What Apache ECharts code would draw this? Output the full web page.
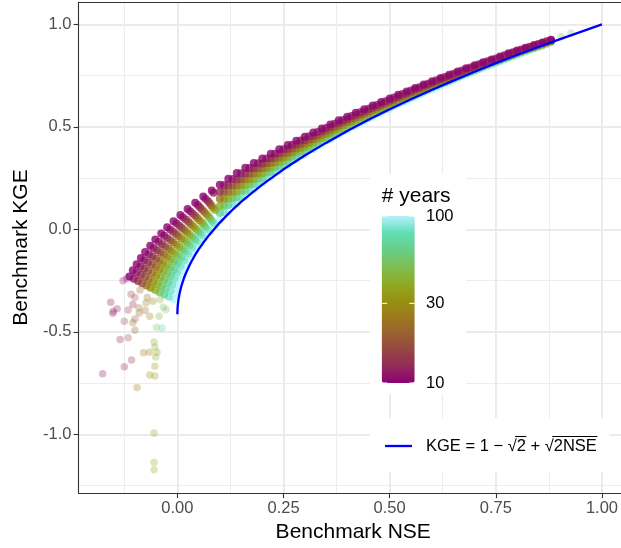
<!DOCTYPE html>
<html>
<head>
<meta charset="utf-8">
<script src="https://cdn.jsdelivr.net/npm/echarts@6/dist/echarts.min.js"></script>
<style>
  html, body { margin: 0; padding: 0; background: #ffffff; }
  #chart { width: 621px; height: 548px; }
</style>
</head>
<body>
<div id="chart"></div>
<script>
// Axis ticks
const xTicks = [0, 0.25, 0.5, 0.75, 1];
const xMinorTicks = [-0.125, 0.125, 0.375, 0.625, 0.875];
const yTicks = [-1, -0.5, 0, 0.5, 1];
const yMinorTicks = [-1.25, -0.75, -0.25, 0.25, 0.75];
const legendTicks = [10, 30, 100];

// Reference curve KGE = 1 - sqrt(2) + sqrt(2 NSE)
const curveNse = [0, 0.0001, 0.0005, 0.001, 0.002, 0.0035, 0.005, 0.0075, 0.01, 0.015,
  0.02, 0.03, 0.04, 0.05, 0.06, 0.075, 0.1, 0.125, 0.15, 0.175,
  0.2, 0.25, 0.3, 0.35, 0.4, 0.45, 0.5, 0.55, 0.6, 0.65,
  0.7, 0.75, 0.8, 0.85, 0.9, 0.95, 1.0];
const curveKge = [-0.414, -0.400, -0.383, -0.370, -0.351, -0.331, -0.314, -0.292, -0.273, -0.241,
  -0.214, -0.169, -0.131, -0.098, -0.068, -0.027, 0.033, 0.086, 0.134, 0.177,
  0.218, 0.293, 0.360, 0.422, 0.480, 0.535, 0.586, 0.635, 0.681, 0.726,
  0.769, 0.811, 0.851, 0.890, 0.927, 0.964, 1.000];

// Benchmark scores, low-NSE part of the cloud, grouped by record length (years)
const lowerYears = [100, 85, 70, 55, 42, 32, 24, 18, 14, 12, 10];
const lowerNse = [
  [-0.009, -0.006, -0.002, 0.003, 0.009, 0.016, 0.024, 0.032, 0.042, 0.052, 0.063, 0.076, 0.089],
  [-0.020, -0.016, -0.012, -0.006, 0.000, 0.008, 0.016, 0.025, 0.035, 0.046, 0.058, 0.071, 0.085],
  [-0.031, -0.027, -0.021, -0.015, -0.008, 0.000, 0.009, 0.018, 0.029, 0.041, 0.053, 0.066, 0.081],
  [-0.042, -0.037, -0.031, -0.024, -0.017, -0.008, 0.001, 0.012, 0.023, 0.035, 0.048, 0.062, 0.077],
  [-0.052, -0.047, -0.040, -0.033, -0.025, -0.016, -0.006, 0.005, 0.017, 0.029, 0.043, 0.058, 0.073, 0.089],
  [-0.063, -0.057, -0.050, -0.042, -0.034, -0.024, -0.014, -0.002, 0.010, 0.023, 0.037, 0.052, 0.068, 0.084],
  [-0.073, -0.067, -0.059, -0.051, -0.042, -0.032, -0.021, -0.010, 0.003, 0.017, 0.031, 0.047, 0.063, 0.080],
  [-0.083, -0.076, -0.069, -0.060, -0.050, -0.040, -0.029, -0.016, -0.003, 0.011, 0.026, 0.042, 0.058, 0.076],
  [-0.093, -0.086, -0.078, -0.069, -0.059, -0.048, -0.036, -0.024, -0.010, 0.005, 0.020, 0.036, 0.053, 0.072],
  [-0.103, -0.096, -0.087, -0.078, -0.067, -0.056, -0.044, -0.031, -0.017, -0.002, 0.013, 0.030, 0.048, 0.066, 0.085],
  [-0.113, -0.105, -0.096, -0.086, -0.076, -0.064, -0.052, -0.038, -0.024, -0.009, 0.007, 0.024, 0.042, 0.061, 0.081]
];
const lowerKge = [
  [-0.340, -0.310, -0.280, -0.250, -0.220, -0.190, -0.160, -0.130, -0.100, -0.070, -0.040, -0.010, 0.020],
  [-0.329, -0.299, -0.269, -0.239, -0.209, -0.179, -0.149, -0.119, -0.089, -0.059, -0.029, 0.001, 0.031],
  [-0.318, -0.288, -0.258, -0.228, -0.198, -0.168, -0.138, -0.108, -0.078, -0.048, -0.018, 0.012, 0.042],
  [-0.307, -0.277, -0.247, -0.217, -0.187, -0.157, -0.127, -0.097, -0.067, -0.037, -0.007, 0.023, 0.053],
  [-0.296, -0.266, -0.236, -0.206, -0.176, -0.146, -0.116, -0.086, -0.056, -0.026, 0.004, 0.034, 0.064, 0.094],
  [-0.285, -0.255, -0.225, -0.195, -0.165, -0.135, -0.105, -0.075, -0.045, -0.015, 0.015, 0.045, 0.075, 0.105],
  [-0.274, -0.244, -0.214, -0.184, -0.154, -0.124, -0.094, -0.064, -0.034, -0.004, 0.026, 0.056, 0.086, 0.116],
  [-0.263, -0.233, -0.203, -0.173, -0.143, -0.113, -0.083, -0.053, -0.023, 0.007, 0.037, 0.067, 0.097, 0.127],
  [-0.252, -0.222, -0.192, -0.162, -0.132, -0.102, -0.072, -0.042, -0.012, 0.018, 0.048, 0.078, 0.108, 0.138],
  [-0.241, -0.211, -0.181, -0.151, -0.121, -0.091, -0.061, -0.031, -0.001, 0.029, 0.059, 0.089, 0.119, 0.149, 0.179],
  [-0.230, -0.200, -0.170, -0.140, -0.110, -0.080, -0.050, -0.020, 0.010, 0.040, 0.070, 0.100, 0.130, 0.160, 0.190]
];

// Benchmark scores, upper part of the cloud (even NSE grid)
const upperYears = [100, 70, 42, 24, 14, 10];
const upperNse = [0.10, 0.12, 0.14, 0.16, 0.18, 0.20, 0.22, 0.24, 0.26, 0.28,
  0.30, 0.32, 0.34, 0.36, 0.38, 0.40, 0.42, 0.44, 0.46, 0.48,
  0.50, 0.52, 0.54, 0.56, 0.58, 0.60, 0.62, 0.64, 0.66, 0.68,
  0.70, 0.72, 0.74, 0.76, 0.78, 0.80, 0.82, 0.84, 0.86, 0.88];
const upperKge = [
  [0.045, 0.087, 0.126, 0.162, 0.195, 0.226, 0.257, 0.286, 0.314, 0.340,
   0.366, 0.392, 0.415, 0.439, 0.463, 0.485, 0.507, 0.528, 0.549, 0.570,
   0.590, 0.610, 0.628, 0.647, 0.666, 0.684, 0.702, 0.719, 0.737, 0.754,
   0.771, 0.788, 0.803, 0.820, 0.836, 0.852, 0.867, 0.882, 0.897, 0.912],
  [0.080, 0.119, 0.156, 0.189, 0.221, 0.250, 0.280, 0.307, 0.333, 0.359,
   0.384, 0.408, 0.431, 0.454, 0.476, 0.498, 0.520, 0.539, 0.560, 0.580,
   0.600, 0.619, 0.637, 0.656, 0.674, 0.692, 0.710, 0.726, 0.743, 0.760,
   0.777, 0.793, 0.809, 0.824, 0.840, 0.856, 0.871, 0.885, 0.900, 0.915],
  [0.114, 0.151, 0.185, 0.217, 0.246, 0.274, 0.302, 0.328, 0.353, 0.377,
   0.401, 0.424, 0.446, 0.468, 0.490, 0.511, 0.532, 0.551, 0.571, 0.590,
   0.609, 0.628, 0.646, 0.664, 0.682, 0.700, 0.717, 0.733, 0.750, 0.767,
   0.783, 0.799, 0.814, 0.829, 0.845, 0.860, 0.875, 0.889, 0.903, 0.918],
  [0.149, 0.183, 0.215, 0.245, 0.272, 0.298, 0.324, 0.349, 0.373, 0.395,
   0.418, 0.440, 0.462, 0.483, 0.504, 0.524, 0.545, 0.563, 0.582, 0.601,
   0.619, 0.638, 0.655, 0.673, 0.690, 0.708, 0.724, 0.740, 0.757, 0.773,
   0.789, 0.805, 0.819, 0.834, 0.850, 0.864, 0.879, 0.892, 0.906, 0.920],
  [0.183, 0.215, 0.245, 0.273, 0.298, 0.322, 0.347, 0.370, 0.392, 0.414,
   0.435, 0.457, 0.477, 0.498, 0.518, 0.537, 0.557, 0.574, 0.593, 0.611,
   0.629, 0.647, 0.664, 0.682, 0.699, 0.715, 0.732, 0.747, 0.763, 0.780,
   0.795, 0.810, 0.824, 0.839, 0.854, 0.869, 0.883, 0.895, 0.909, 0.923],
  [0.218, 0.247, 0.275, 0.301, 0.324, 0.346, 0.369, 0.391, 0.412, 0.432,
   0.452, 0.473, 0.492, 0.512, 0.532, 0.550, 0.569, 0.586, 0.604, 0.622,
   0.639, 0.657, 0.673, 0.690, 0.707, 0.723, 0.739, 0.754, 0.770, 0.786,
   0.801, 0.816, 0.829, 0.844, 0.859, 0.873, 0.886, 0.899, 0.912, 0.925]
];

// Benchmark scores, upper part of the cloud (odd NSE grid)
const upperYearsOdd = [85, 55, 32, 18, 12];
const upperNseOdd = [0.11, 0.13, 0.15, 0.17, 0.19, 0.21, 0.23, 0.25, 0.27, 0.29,
  0.31, 0.33, 0.35, 0.37, 0.39, 0.41, 0.43, 0.45, 0.47, 0.49,
  0.51, 0.53, 0.55, 0.57, 0.59, 0.61, 0.63, 0.65, 0.67, 0.69,
  0.71, 0.73, 0.75, 0.77, 0.79, 0.81, 0.83, 0.85, 0.87];
const upperKgeOdd = [
  [0.083, 0.122, 0.158, 0.192, 0.223, 0.254, 0.282, 0.310, 0.337, 0.362,
   0.388, 0.412, 0.435, 0.458, 0.481, 0.503, 0.524, 0.544, 0.565, 0.585,
   0.605, 0.623, 0.642, 0.661, 0.679, 0.697, 0.714, 0.731, 0.749, 0.766,
   0.782, 0.798, 0.814, 0.830, 0.846, 0.862, 0.877, 0.891, 0.906],
  [0.116, 0.153, 0.187, 0.219, 0.248, 0.277, 0.304, 0.330, 0.356, 0.380,
   0.404, 0.427, 0.450, 0.472, 0.494, 0.515, 0.536, 0.555, 0.575, 0.595,
   0.614, 0.633, 0.651, 0.669, 0.687, 0.705, 0.722, 0.738, 0.755, 0.772,
   0.788, 0.804, 0.819, 0.835, 0.850, 0.866, 0.880, 0.894, 0.909],
  [0.150, 0.184, 0.216, 0.245, 0.273, 0.300, 0.326, 0.351, 0.375, 0.398,
   0.421, 0.443, 0.465, 0.487, 0.508, 0.528, 0.548, 0.567, 0.586, 0.605,
   0.624, 0.642, 0.660, 0.678, 0.695, 0.712, 0.729, 0.745, 0.762, 0.778,
   0.794, 0.809, 0.824, 0.840, 0.855, 0.870, 0.884, 0.898, 0.912],
  [0.183, 0.215, 0.245, 0.272, 0.298, 0.323, 0.347, 0.371, 0.394, 0.416,
   0.438, 0.459, 0.480, 0.501, 0.521, 0.541, 0.560, 0.578, 0.597, 0.615,
   0.633, 0.651, 0.668, 0.686, 0.703, 0.720, 0.736, 0.752, 0.768, 0.784,
   0.800, 0.815, 0.829, 0.844, 0.859, 0.874, 0.887, 0.901, 0.915],
  [0.216, 0.246, 0.274, 0.299, 0.323, 0.346, 0.369, 0.391, 0.413, 0.434,
   0.454, 0.475, 0.495, 0.515, 0.534, 0.553, 0.572, 0.589, 0.607, 0.625,
   0.643, 0.660, 0.677, 0.694, 0.711, 0.728, 0.743, 0.759, 0.775, 0.790,
   0.806, 0.820, 0.834, 0.849, 0.864, 0.878, 0.891, 0.904, 0.918]
];

// Isolated catchments outside the dense cloud
const sparseNse = [-0.128, -0.120, -0.157, -0.151, -0.152, -0.142, -0.109, -0.105, -0.116, -0.125,
  -0.100, -0.090, -0.105, -0.100, -0.116, -0.135, -0.176, -0.125, -0.108, -0.095,
  -0.080, -0.066, -0.065, -0.053, -0.053, -0.051, -0.053, -0.048, -0.055, -0.049,
  -0.036, -0.055, -0.055, -0.055, -0.088, -0.100, -0.091, -0.074, -0.076, -0.065,
  -0.043, -0.033, -0.027, -0.058, -0.071, -0.041, 0.904, 0.927];
const sparseKge = [-0.251, -0.241, -0.356, -0.400, -0.409, -0.387, -0.316, -0.367, -0.393, -0.448,
  -0.437, -0.408, -0.456, -0.492, -0.529, -0.537, -0.704, -0.670, -0.637, -0.772,
  -0.602, -0.599, -0.710, -0.715, -0.668, -0.623, -0.574, -0.600, -0.550, -0.477,
  -0.481, -0.994, -1.136, -1.173, -0.296, -0.332, -0.383, -0.359, -0.396, -0.424,
  -0.424, -0.380, -0.392, -0.351, -0.332, -0.343, 0.940, 0.958];
const sparseYears = [11, 11, 11, 12, 11, 12, 15, 13, 14, 16,
  18, 20, 22, 20, 16, 12, 11, 12, 13, 24,
  25, 28, 30, 35, 35, 40, 42, 38, 40, 55,
  70, 38, 40, 40, 20, 18, 22, 25, 22, 28,
  45, 50, 55, 25, 22, 40, 45, 55];

// Colour ramp for the record length (purple = short, cyan = long)
const palette = ['#8C0273', '#922A59', '#964742', '#996330', '#9A7B1C', '#979311',
  '#8EAB27', '#7CBF55', '#66CF87', '#62DDB7', '#B3F2FD'];

const FONT = '"Liberation Sans", Arial, Helvetica, sans-serif';
const chart = echarts.init(document.getElementById('chart'), null, { renderer: 'canvas' });

// scatter series: one per record length, drawn from long to short records
const scatterSeries = lowerYears.map((yrs, i) => {
  const lv = Math.log10(yrs);
  const pts = lowerNse[i].map((n, j) => [n, lowerKge[i][j], lv]);
  const u = upperYears.indexOf(yrs);
  if (u >= 0) upperNse.forEach((n, j) => pts.push([n, upperKge[u][j], lv]));
  const o = upperYearsOdd.indexOf(yrs);
  if (o >= 0) upperNseOdd.forEach((n, j) => pts.push([n, upperKgeOdd[o][j], lv]));
  return {
    type: 'scatter', name: 'years ' + yrs, data: pts,
    symbolSize: 8, itemStyle: { opacity: 0.8 }, silent: true, z: 2
  };
});
scatterSeries.unshift({
  type: 'scatter', name: 'isolated',
  data: sparseNse.map((n, j) => [n, sparseKge[j], Math.log10(sparseYears[j])]),
  symbolSize: 7.5, itemStyle: { opacity: 0.3 }, silent: true, z: 2
});
const scatterIdx = scatterSeries.map((s, i) => i);

const lineSeries = {
  type: 'line', name: 'curve', data: curveNse.map((n, j) => [n, curveKge[j]]),
  showSymbol: false, symbol: 'none', smooth: false,
  lineStyle: { color: '#0000FF', width: 2.3 }, z: 3, silent: true
};

// colour-bar geometry
const bar = { x: 381.7, y: 216, w: 33, h: 167 };
const barY = v => bar.y + bar.h * (2 - Math.log10(v));

// legend formula text with overbars on the radicands
const formula = 'KGE = 1 \u2212 \u221A2 + \u221A2NSE';
const fSize = 16.5;
const mctx = document.createElement('canvas').getContext('2d');
mctx.font = fSize + 'px ' + FONT;
const tw = s => mctx.measureText(s).width;
const fx = 426, fy = 446;
const p1a = tw('KGE = 1 \u2212 \u221A') - 1.5, p1b = tw('KGE = 1 \u2212 \u221A2') + 0.5;
const p2a = tw('KGE = 1 \u2212 \u221A2 + \u221A') - 1.5, p2b = tw(formula) + 0.5;
const barLineY = fy - 9.5;

const graphics = [
  { type: 'rect', shape: { x: 370, y: 174, width: 96, height: 220 }, style: { fill: '#ffffff' }, z: 1, silent: true },
  { type: 'rect', shape: { x: 370, y: 418, width: 239, height: 54 }, style: { fill: '#ffffff' }, z: 1, silent: true },
  { type: 'text', x: bar.x, y: 196, z: 5, silent: true,
    style: { text: '# years', font: '21px ' + FONT, fill: '#000000', textAlign: 'left', textVerticalAlign: 'middle' } },
  { type: 'line', shape: { x1: 385, y1: fy, x2: 412, y2: fy }, style: { stroke: '#0000FF', lineWidth: 2.3 }, z: 5, silent: true },
  { type: 'text', x: fx, y: fy, z: 5, silent: true,
    style: { text: formula, font: fSize + 'px ' + FONT, fill: '#000000', textAlign: 'left', textVerticalAlign: 'middle' } },
  { type: 'line', shape: { x1: fx + p1a, y1: barLineY, x2: fx + p1b, y2: barLineY }, style: { stroke: '#000000', lineWidth: 1.1 }, z: 5, silent: true },
  { type: 'line', shape: { x1: fx + p2a, y1: barLineY, x2: fx + p2b, y2: barLineY }, style: { stroke: '#000000', lineWidth: 1.1 }, z: 5, silent: true }
];
legendTicks.forEach(v => {
  const y = barY(v);
  graphics.push({ type: 'text', x: 426, y: y, z: 5, silent: true,
    style: { text: String(v), font: '16.5px ' + FONT, fill: '#000000', textAlign: 'left', textVerticalAlign: 'middle' } });
  graphics.push({ type: 'line', shape: { x1: bar.x, y1: y, x2: bar.x + 5.5, y2: y }, style: { stroke: '#ffffff', lineWidth: 1 }, z: 6, silent: true });
  graphics.push({ type: 'line', shape: { x1: bar.x + bar.w - 5.5, y1: y, x2: bar.x + bar.w, y2: y }, style: { stroke: '#ffffff', lineWidth: 1 }, z: 6, silent: true });
});

const X_MIN = -0.2329, X_MAX = 1.0448, Y_MIN = -1.2868, Y_MAX = 1.1094;
const axisColor = '#333333';
const labelStyle = { color: '#4D4D4D', fontSize: 16.5, fontFamily: FONT };

chart.setOption({
  animation: false,
  backgroundColor: '#ffffff',
  textStyle: { fontFamily: FONT },
  grid: { left: 78.5, right: 0, top: 2, bottom: 53 },
  xAxis: [
    {
      type: 'value', position: 'bottom', min: X_MIN, max: X_MAX,
      name: 'Benchmark NSE', nameLocation: 'middle', nameGap: 27,
      nameTextStyle: { fontSize: 21, color: '#000000', fontFamily: FONT, padding: [0, 0, 0, 7] },
      axisLine: { show: true, onZero: false, lineStyle: { color: axisColor, width: 1.1 } },
      axisTick: { show: true, customValues: xTicks, length: 5, lineStyle: { color: axisColor, width: 1.1 } },
      axisLabel: Object.assign({ customValues: xTicks, margin: 7, formatter: v => Number(v).toFixed(2) }, labelStyle),
      splitLine: { show: true, lineStyle: { color: '#EBEBEB', width: 1.9 } }
    },
    {
      type: 'value', position: 'top', min: X_MIN, max: X_MAX,
      axisLine: { show: true, onZero: false, lineStyle: { color: axisColor, width: 1.1 } },
      axisTick: { show: false, customValues: xMinorTicks },
      axisLabel: { show: false, customValues: xMinorTicks },
      splitLine: { show: true, lineStyle: { color: '#EDEDED', width: 1 } }
    }
  ],
  yAxis: [
    {
      type: 'value', position: 'left', min: Y_MIN, max: Y_MAX,
      name: 'Benchmark KGE', nameLocation: 'middle', nameGap: 36,
      nameTextStyle: { fontSize: 21, color: '#000000', fontFamily: FONT },
      axisLine: { show: true, onZero: false, lineStyle: { color: axisColor, width: 1.1 } },
      axisTick: { show: true, customValues: yTicks, length: 5, lineStyle: { color: axisColor, width: 1.1 } },
      axisLabel: Object.assign({ customValues: yTicks, margin: 7, formatter: v => Number(v).toFixed(1) }, labelStyle),
      splitLine: { show: true, lineStyle: { color: '#EBEBEB', width: 1.9 } }
    },
    {
      type: 'value', position: 'right', min: Y_MIN, max: Y_MAX,
      axisLine: { show: false },
      axisTick: { show: false, customValues: yMinorTicks },
      axisLabel: { show: false, customValues: yMinorTicks },
      splitLine: { show: true, lineStyle: { color: '#EDEDED', width: 1 } }
    }
  ],
  visualMap: {
    type: 'continuous', min: 1, max: 2, dimension: 2, seriesIndex: scatterIdx,
    calculable: false, show: true, orient: 'vertical', hoverLink: false,
    left: bar.x, top: bar.y, itemWidth: bar.w, itemHeight: bar.h, padding: 0,
    inRange: { color: palette }, z: 4
  },
  graphic: graphics,
  series: scatterSeries.concat([lineSeries])
});
</script>
</body>
</html>
